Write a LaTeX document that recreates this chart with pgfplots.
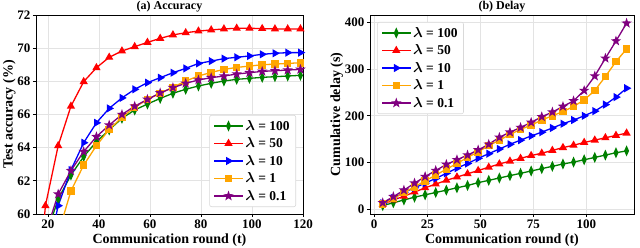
\documentclass[border=0pt]{standalone}
\usepackage{pgfplots}
\pgfplotsset{compat=1.18}
\usepackage{fontspec}
\setmainfont{Liberation Serif}
\usepackage{bm}
\definecolor{cgreen}{RGB}{0,128,0}
\definecolor{cred}{RGB}{255,0,0}
\definecolor{cblue}{RGB}{0,0,255}
\definecolor{corange}{RGB}{255,165,0}
\definecolor{cpurple}{RGB}{128,0,128}
\pgfdeclareplotmark{fstar}{%
  \pgfpathmoveto{\pgfpointpolar{90}{1.25*\pgfplotmarksize}}%
  \pgfpathlineto{\pgfpointpolar{126}{0.5*\pgfplotmarksize}}%
  \pgfpathlineto{\pgfpointpolar{162}{1.25*\pgfplotmarksize}}%
  \pgfpathlineto{\pgfpointpolar{198}{0.5*\pgfplotmarksize}}%
  \pgfpathlineto{\pgfpointpolar{234}{1.25*\pgfplotmarksize}}%
  \pgfpathlineto{\pgfpointpolar{270}{0.5*\pgfplotmarksize}}%
  \pgfpathlineto{\pgfpointpolar{306}{1.25*\pgfplotmarksize}}%
  \pgfpathlineto{\pgfpointpolar{342}{0.5*\pgfplotmarksize}}%
  \pgfpathlineto{\pgfpointpolar{18}{1.25*\pgfplotmarksize}}%
  \pgfpathlineto{\pgfpointpolar{54}{0.5*\pgfplotmarksize}}%
  \pgfpathclose\pgfusepathqfillstroke}
\pgfplotsset{
  common/.style={
    scale only axis,
    grid=major,
    grid style={gray!22, line width=0.7pt},
    axis line style={black, line width=0.7pt},
    tick pos=left, tick align=outside,
    major tick length=3pt,
    every tick/.style={black, line width=0.7pt},
    /pgf/number format/assume math mode=true,
    tick label style={font=\bfseries\fontsize{13}{13}\selectfont},
    label style={font=\bfseries\fontsize{14}{14}\selectfont},
    title style={font=\bfseries\fontsize{12}{12}\selectfont, at={(0.5,1)}, anchor=south, inner sep=0pt, yshift=-3.7pt},
    legend cell align=left,
    legend style={draw=gray!30, rounded corners=2pt, line width=0.6pt,
      font=\bfseries\fontsize{13.5}{14}\selectfont, row sep=2pt,
      inner xsep=4pt, inner ysep=3pt},
    legend image code/.code={%
      \draw[mark repeat=2,mark phase=2] plot coordinates {(0cm,0cm) (0.5cm,0cm) (1.0cm,0cm)};},
    xlabel style={at={(0.5,0)}, anchor=north, inner sep=0pt, yshift=-19.5pt},
    ylabel style={yshift=-5pt},
    xticklabel style={yshift=1pt},
    yticklabel style={xshift=1pt},
  },
  sg/.style={cgreen, line width=1.3pt, mark=diamond*, mark size=4pt, mark options={xscale=0.6, solid}},
  sr/.style={cred, line width=1.3pt, mark=triangle*, mark size=3.5pt, mark options={solid}},
  sb/.style={cblue, line width=1.3pt, mark=triangle*, mark size=3.5pt, mark options={rotate=-90, solid}},
  so/.style={corange, line width=1.3pt, mark=square*, mark size=3.1pt, mark options={solid}},
  sp/.style={cpurple, line width=1.3pt, mark=fstar, mark size=2.8pt, mark options={solid}},
}
\begin{document}
\begin{tikzpicture}
\begin{axis}[common,
  width=267pt, height=199pt,
  xmin=15.3, xmax=120, ymin=60, ymax=72,
  xtick={20,40,60,80,100,120}, ytick={60,62,64,66,68,70,72},
  title={(a) Accuracy},
  xlabel={Communication round (t)},
  ylabel={Test accuracy (\%)},
  legend style={at={(0.974,0.035)}, anchor=south east},
]
\addplot[sg] coordinates {(19,58.6)(24,60.9)(29,62.35)(34,63.46)(39,64.36)(44,65.07)(49,65.77)(54,66.27)(59,66.63)(64,66.97)(69,67.28)(74,67.52)(79,67.72)(84,67.88)(89,68.02)(94,68.12)(99,68.18)(104,68.24)(109,68.28)(114,68.32)(119,68.36)};
\addlegendentry{$\bm{\lambda}$ = 100}
\addplot[sr] coordinates {(14,52)(19,60.5)(24,64.12)(29,66.5)(34,67.98)(39,68.82)(44,69.45)(49,69.83)(54,70.09)(59,70.35)(64,70.59)(69,70.8)(74,70.93)(79,71.03)(84,71.1)(89,71.16)(94,71.2)(99,71.2)(104,71.18)(109,71.16)(114,71.16)(119,71.16)};
\addlegendentry{$\bm{\lambda}$ = 50}
\addplot[sb] coordinates {(19,57)(24,60.5)(29,62.65)(34,64.3)(39,65.5)(44,66.37)(49,67.0)(54,67.52)(59,67.92)(64,68.22)(69,68.52)(74,68.78)(79,69.08)(84,69.22)(89,69.37)(94,69.45)(99,69.53)(104,69.63)(109,69.69)(114,69.73)(119,69.73)};
\addlegendentry{$\bm{\lambda}$ = 10}
\addplot[so] coordinates {(24,58.8)(29,61.39)(34,62.95)(39,64.12)(44,65.1)(49,65.83)(54,66.43)(59,66.91)(64,67.28)(69,67.64)(74,68.02)(79,68.32)(84,68.54)(89,68.72)(94,68.84)(99,68.92)(104,69.0)(109,69.04)(114,69.08)(119,69.12)};
\addlegendentry{$\bm{\lambda}$ = 1}
\addplot[sp] coordinates {(19,58.8)(24,61.2)(29,62.61)(34,63.76)(39,64.66)(44,65.36)(49,66.0)(54,66.5)(59,66.91)(64,67.3)(69,67.62)(74,67.88)(79,68.08)(84,68.22)(89,68.32)(94,68.44)(99,68.52)(104,68.6)(109,68.64)(114,68.68)(119,68.72)};
\addlegendentry{$\bm{\lambda}$ = 0.1}
\end{axis}
\begin{axis}[common,
  at={(334pt,0pt)},
  width=264pt, height=199pt,
  xmin=-2, xmax=122.5, ymin=-10, ymax=415.6,
  xtick={0,25,50,75,100}, ytick={0,100,200,300,400},
  title={(b) Delay},
  xlabel={Communication round (t)},
  ylabel={Cumulative delay (s)},
  legend style={at={(0.027,0.965)}, anchor=north west},
]
\addplot[sg] coordinates {(4,8)(9,14)(14,20)(19,26)(24,31)(29,36)(34,41)(39,46)(44,51)(49,57)(54,62)(59,67)(64,72)(69,77)(74,82)(79,87)(84,92)(89,97)(94,101)(99,106)(104,111)(109,116)(114,121)(119,125)};
\addlegendentry{$\bm{\lambda}$ = 100}
\addplot[sr] coordinates {(4,11)(9,20)(14,28)(19,37)(24,46)(29,54)(34,62)(39,69)(44,76)(49,83)(54,90)(59,97)(64,103)(69,109)(74,115)(79,120)(84,126)(89,132)(94,137)(99,143)(104,148)(109,153)(114,158)(119,163)};
\addlegendentry{$\bm{\lambda}$ = 50}
\addplot[sb] coordinates {(4,13)(9,24)(14,36)(19,46)(24,56)(29,66)(34,77)(39,88)(44,98)(49,109)(54,119)(59,129)(64,139)(69,148)(74,157)(79,165)(84,174)(89,183)(94,191)(99,200)(104,210)(109,224)(114,240)(119,259)};
\addlegendentry{$\bm{\lambda}$ = 10}
\addplot[so] coordinates {(4,11)(9,23)(14,36)(19,48)(24,61)(29,73)(34,86)(39,98)(44,111)(49,123)(54,136)(59,148)(64,160)(69,171)(74,180)(79,191)(84,200)(89,209)(94,220)(99,234)(104,254)(109,284)(114,316)(119,343)};
\addlegendentry{$\bm{\lambda}$ = 1}
\addplot[sp] coordinates {(4,14)(9,27)(14,41)(19,56)(24,70)(29,83)(34,96)(39,106)(44,116)(49,127)(54,139)(59,154)(64,165)(69,175)(74,186)(79,198)(84,208)(89,220)(94,232)(99,254)(104,285)(109,323)(114,360)(119,398)};
\addlegendentry{$\bm{\lambda}$ = 0.1}
\end{axis}
\pgfresetboundingbox
\useasboundingbox (-36pt,-33pt) rectangle (604pt,214pt);
\end{tikzpicture}
\end{document}
